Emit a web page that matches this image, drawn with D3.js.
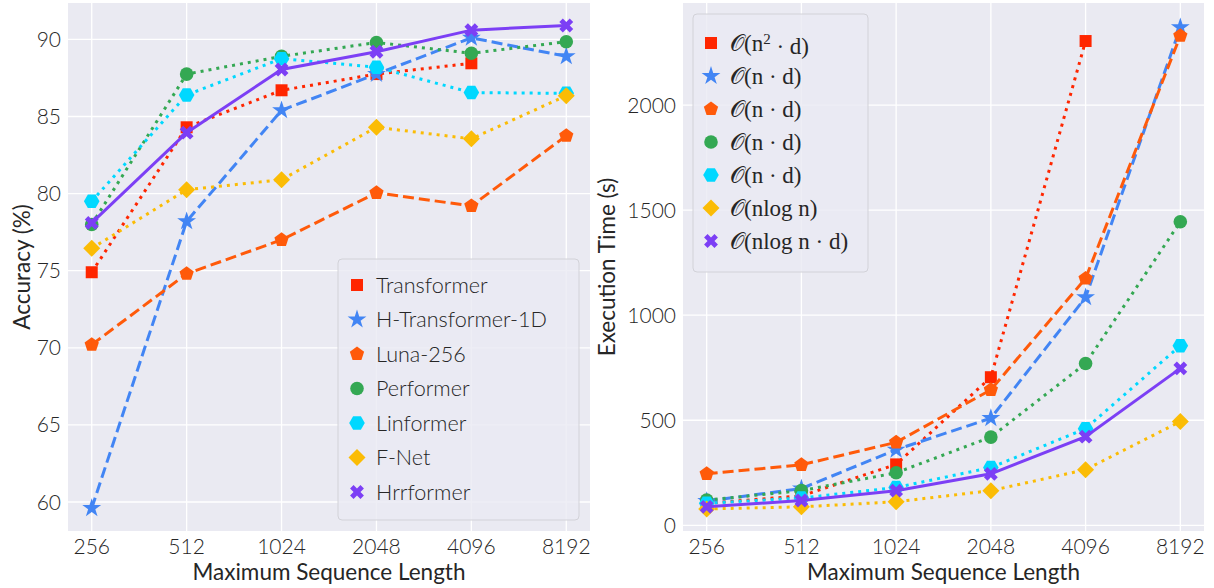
<!DOCTYPE html>
<html>
<head>
<meta charset="utf-8">
<script src="https://cdn.jsdelivr.net/npm/d3@7"></script>
<style>
  body { margin: 0; background: #fff; }
  text { font-family: Lato, "Open Sans", sans-serif; fill: #262626; }
</style>
</head>
<body>
<div id="chart-area"></div>
<script>
// sequence lengths on the x axis
const seqLengths = [256, 512, 1024, 2048, 4096, 8192]

const modelNames = ["Transformer", "H-Transformer-1D", "Luna-256", "Performer", "Linformer", "F-Net", "Hrrformer"]
const complexity = ["n2d", "nd", "nd", "nd", "nd", "nlogn", "nlognd"]

// accuracy (%) — Transformer has no 8192 run
const accTransformer = [74.9, 84.3, 86.7, 87.75, 88.45, null]
const accHTransformer = [59.6, 78.2, 85.4, 87.75, 90.1, 88.9]
const accLuna = [70.2, 74.8, 77.0, 80.05, 79.2, 83.75]
const accPerformer = [78.0, 87.75, 88.9, 89.8, 89.1, 89.85]
const accLinformer = [79.5, 86.4, 88.75, 88.2, 86.55, 86.5]
const accFNet = [76.45, 80.25, 80.9, 84.3, 83.55, 86.35]
const accHrrformer = [78.1, 83.95, 88.05, 89.2, 90.6, 90.9]

// execution time (s)
const timeTransformer = [105, 140, 290, 705, 2305, null]
const timeHTransformer = [115, 175, 360, 510, 1085, 2370]
const timeLuna = [245, 288, 395, 645, 1175, 2330]
const timePerformer = [120, 165, 250, 420, 770, 1445]
const timeLinformer = [105, 130, 180, 275, 460, 855]
const timeFNet = [78, 88, 112, 165, 265, 494]
const timeHrrformer = [88, 118, 165, 245, 422, 747]

const accTicks = [60, 65, 70, 75, 80, 85, 90]
const timeTicks = [0, 500, 1000, 1500, 2000]

const colors = ["#ff2600", "#4285f4", "#ff5a0a", "#34a853", "#00d8ff", "#fbbc05", "#7c3ff5"]
const dashes = ["3,5", "11,5", "11,5", "3,5", "3,5", "3,5", null]
const markers = ["square", "star", "pentagon", "circle", "hexagon", "diamond", "cross"]

const accSeries = [accTransformer, accHTransformer, accLuna, accPerformer, accLinformer, accFNet, accHrrformer]
const timeSeries = [timeTransformer, timeHTransformer, timeLuna, timePerformer, timeLinformer, timeFNet, timeHrrformer]

const W = 1214, H = 588
const svg = d3.select("#chart-area").append("svg")
  .attr("width", W).attr("height", H)

function polygon(n, r, rot) {
  const pts = d3.range(n).map(i => {
    const a = rot + i * 2 * Math.PI / n
    return [r * Math.sin(a), -r * Math.cos(a)]
  })
  return "M" + pts.map(p => p.join(",")).join("L") + "Z"
}

const crossPath = d3.symbol(d3.symbolCross, 120)()

function markerPath(kind) {
  switch (kind) {
    case "square": return "M-6,-6H6V6H-6Z"
    case "star": return d3.symbol(d3.symbolStar, 110)()
    case "pentagon": return polygon(5, 7.5, 0)
    case "circle": return d3.symbol(d3.symbolCircle, 145)()
    case "hexagon": return polygon(6, 7.8, Math.PI / 6)
    case "diamond": return polygon(4, 8.5, 0)
  }
}

function drawMarker(sel, kind, color) {
  if (kind === "cross") {
    sel.append("path").attr("d", crossPath).attr("transform", "rotate(45)").attr("fill", color)
  } else {
    sel.append("path").attr("d", markerPath(kind)).attr("fill", color)
  }
}

function panel(opts) {
  const { x0, x1, y0, y1, domain, ticks, series, yLabel } = opts

  const x = d3.scaleLog().base(2)
    .domain([256 / Math.pow(2, 0.25), 8192 * Math.pow(2, 0.25)])
    .range([x0, x1])
  const y = d3.scaleLinear().domain(domain).range([y1, y0])

  const g = svg.append("g")
  g.append("rect").attr("x", x0).attr("y", y0).attr("width", x1 - x0).attr("height", y1 - y0)
    .attr("fill", "#eaeaf2")

  // grid
  g.selectAll(".gx").data(seqLengths).enter().append("line")
    .attr("x1", d => x(d)).attr("x2", d => x(d)).attr("y1", y0).attr("y2", y1)
    .attr("stroke", "#fff").attr("stroke-width", 1.3)
  g.selectAll(".gy").data(ticks).enter().append("line")
    .attr("x1", x0).attr("x2", x1).attr("y1", d => y(d)).attr("y2", d => y(d))
    .attr("stroke", "#fff").attr("stroke-width", 1.3)

  // tick labels
  g.selectAll(".tx").data(seqLengths).enter().append("text")
    .attr("x", d => x(d)).attr("y", 554)
    .attr("text-anchor", "middle").attr("font-size", 21).attr("font-weight", 300)
    .text(d => d)
  g.selectAll(".ty").data(ticks).enter().append("text")
    .attr("x", x0 - 7).attr("y", d => y(d)).attr("dy", "0.36em")
    .attr("text-anchor", "end").attr("font-size", 21).attr("font-weight", 300)
    .text(d => d)

  g.append("text")
    .attr("x", (x0 + x1) / 2).attr("y", 580)
    .attr("text-anchor", "middle").attr("font-size", 22.5)
    .text("Maximum Sequence Length")
  g.append("text")
    .attr("transform", `translate(${opts.labelX}, ${(y0 + y1) / 2}) rotate(-90)`)
    .attr("text-anchor", "middle").attr("font-size", 22.5)
    .text(yLabel)

  const line = d3.line()
    .defined(d => d[1] != null)
    .x(d => x(d[0])).y(d => y(d[1]))

  series.forEach((vals, i) => {
    const pts = seqLengths.map((s, j) => [s, vals[j]])
    const s = g.append("g")
    s.append("path").attr("d", line(pts))
      .attr("fill", "none").attr("stroke", colors[i]).attr("stroke-width", 3)
      .attr("stroke-dasharray", dashes[i])
    pts.filter(d => d[1] != null).forEach(d => {
      const m = s.append("g").attr("transform", `translate(${x(d[0])},${y(d[1])})`)
      drawMarker(m, markers[i], colors[i])
    })
  })
  return g
}

const left = panel({
  x0: 68, x1: 590, y0: 3, y1: 531,
  domain: [58.12, 92.36], ticks: accTicks, series: accSeries,
  yLabel: "Accuracy (%)", labelX: 30
})
const right = panel({
  x0: 683, x1: 1204, y0: 3, y1: 531,
  domain: [-27, 2486], ticks: timeTicks, series: timeSeries,
  yLabel: "Execution Time (s)", labelX: 615
})

// left legend
const lg = left.append("g")
lg.append("rect").attr("x", 338).attr("y", 259).attr("width", 241).attr("height", 261)
  .attr("rx", 4).attr("fill", "#eaeaf2").attr("fill-opacity", 0.8)
  .attr("stroke", "#d2d2d8").attr("stroke-width", 1)
modelNames.forEach((name, i) => {
  const yy = 285 + i * 34.5
  const m = lg.append("g").attr("transform", `translate(357,${yy})`)
  drawMarker(m, markers[i], colors[i])
  lg.append("text").attr("x", 376).attr("y", yy).attr("dy", "0.36em")
    .attr("font-size", 21.6).attr("font-weight", 300).text(name)
})

// right legend with complexity notation
const rg = right.append("g")
rg.append("rect").attr("x", 693).attr("y", 14).attr("width", 175).attr("height", 258)
  .attr("rx", 4).attr("fill", "#eaeaf2").attr("fill-opacity", 0.8)
  .attr("stroke", "#d2d2d8").attr("stroke-width", 1)
const mathFont = "'Liberation Serif', 'DejaVu Serif', serif"
complexity.forEach((c, i) => {
  const yy = 43 + i * 33
  const m = rg.append("g").attr("transform", `translate(711,${yy})`)
  drawMarker(m, markers[i], colors[i])
  const t = rg.append("text").attr("x", 730).attr("y", yy).attr("dy", "0.34em")
    .attr("font-size", 23).style("font-family", mathFont)
  t.append("tspan").text("𝒪(")
  if (c === "n2d") {
    t.append("tspan").text("n")
    t.append("tspan").attr("dy", "-0.45em").attr("font-size", 15).text("2")
    t.append("tspan").attr("dy", "0.45em").text(" · d)")
  } else if (c === "nd") {
    t.append("tspan").text("n · d)")
  } else if (c === "nlogn") {
    t.append("tspan").text("nlog n)")
  } else {
    t.append("tspan").text("nlog n · d)")
  }
})
</script>
</body>
</html>
